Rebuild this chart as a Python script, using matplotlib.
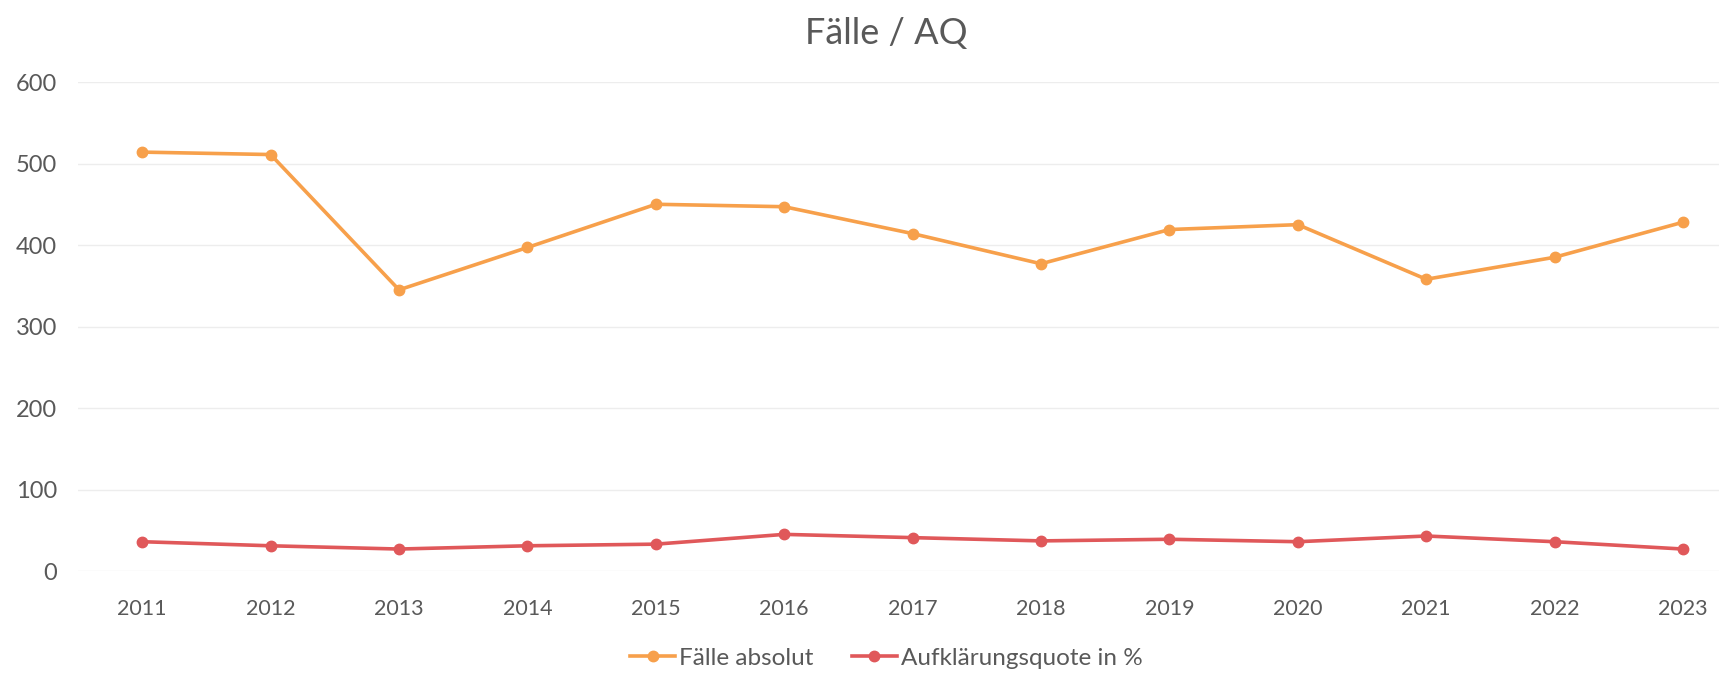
import matplotlib
matplotlib.use('Agg')
import matplotlib.pyplot as plt

plt.rcParams['font.family'] = ['Lato', 'DejaVu Sans']

# data
years = ['2011', '2012', '2013', '2014', '2015', '2016', '2017',
         '2018', '2019', '2020', '2021', '2022', '2023']
faelle = [514, 511, 345, 397, 450, 447, 414, 377, 419, 425, 358, 385, 428]
aq = [36, 31, 27, 31, 33, 45, 41, 37, 39, 36, 43, 36, 27]

orange = '#F7A04B'
red = '#E0585A'
grey = '#595959'

fig = plt.figure(figsize=(17.19, 6.75), dpi=100)
ax = fig.add_axes([0.0454, 0.154, 0.9546, 0.7245])

x = range(len(years))
ax.plot(x, faelle, color=orange, lw=2.6, marker='o', ms=7.5, label='Fälle absolut')
ax.plot(x, aq, color=red, lw=2.6, marker='o', ms=7.5, label='Aufklärungsquote in %')

ax.set_xlim(-0.5, 12.28)
ax.set_ylim(0, 600)
ax.set_yticks([0, 100, 200, 300, 400, 500, 600])
ax.set_xticks(list(x))
ax.set_xticklabels(years)
ax.tick_params(axis='both', length=0, colors=grey)
ax.tick_params(axis='y', pad=15, labelsize=17)
ax.tick_params(axis='x', pad=20, labelsize=15.5)

ax.grid(axis='y', color='#EDEDED', lw=1)
ax.set_axisbelow(True)
for s in ax.spines.values():
    s.set_visible(False)

fig.text(0.5155, 0.951, 'Fälle / AQ', ha='center', va='center', fontsize=26, color=grey)

fig.legend(loc='center', bbox_to_anchor=(0.5155, 0.025), ncol=2, frameon=False,
           fontsize=17.5, labelcolor=grey, handlelength=1.85, handletextpad=0.15,
           columnspacing=1.6)

fig.savefig('out.png', dpi=100)
